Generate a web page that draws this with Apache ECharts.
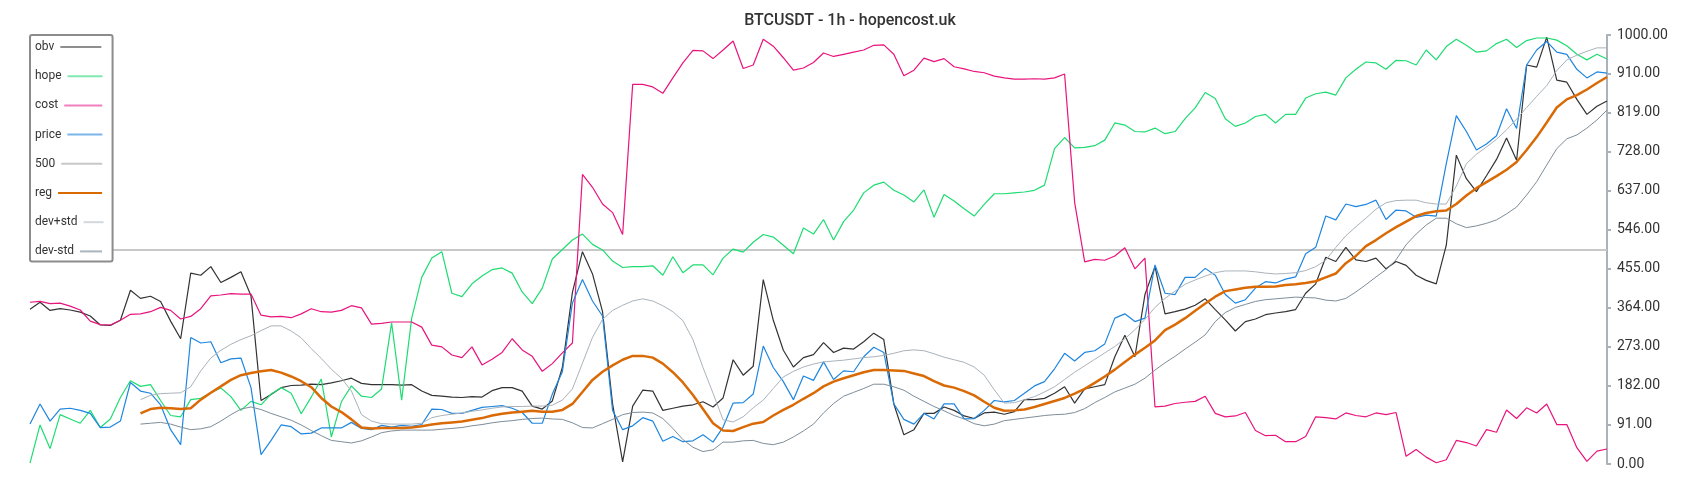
<!DOCTYPE html>
<html>
<head>
<meta charset="utf-8">
<title>BTCUSDT - 1h - hopencost.uk</title>
<script src="https://cdn.jsdelivr.net/npm/echarts@6/dist/echarts.min.js"></script>
<style>
  html, body { margin: 0; padding: 0; background: #fff; }
  #chart { width: 1700px; height: 500px; }
</style>
</head>
<body>
<div id="chart"></div>
<script>
// one value per hour, oldest first
const obv = [
  361, 377, 358, 362, 359, 354, 345, 324, 323, 335,
  405, 386, 391, 379, 333, 292, 445, 440, 460, 423,
  435, 448, 392, 148, 162, 178, 183, 184, 186, 185,
  189, 194, 200, 188, 185, 185, 185, 184, 185, 170,
  160, 158, 156, 155, 157, 156, 171, 178, 178, 170,
  135, 128, 147, 225, 400, 495, 443, 355, 140, 5,
  135, 172, 170, 125, 130, 135, 138, 145, 133, 154,
  243, 207, 228, 430, 335, 265, 226, 248, 255, 283,
  260, 270, 268, 285, 305, 290, 140, 68, 80, 118,
  118, 133, 125, 112, 106, 119, 121, 116, 122, 150,
  150, 153, 165, 180, 142, 175, 180, 185, 250, 300,
  250, 395, 460, 350, 355, 361, 370, 385, 360, 336,
  310, 332, 338, 348, 352, 355, 360, 398, 420, 482,
  472, 505, 476, 472, 480, 455, 472, 463, 440, 428,
  420, 510, 720, 665, 635, 672, 710, 760, 708, 930,
  925, 995, 895, 890, 850, 815, 834, 846
];

const hope = [
  2, 91, 36, 115, 105, 95, 125, 85, 105, 155,
  194, 181, 185, 148, 113, 110, 150, 153, 166, 177,
  157, 125, 146, 138, 163, 178, 165, 117, 156, 198,
  63, 145, 182, 158, 155, 175, 329, 149, 340, 435,
  480, 495, 398, 390, 420, 438, 453, 457, 445, 401,
  374, 410, 478, 500, 522, 536, 512, 499, 473, 458,
  460, 460, 462, 440, 483, 446, 464, 464, 441, 480,
  501, 494, 517, 535, 529, 510, 490, 550, 536, 570,
  522, 565, 592, 632, 650, 657, 638, 627, 611, 639,
  575, 628, 613, 595, 578, 605, 630, 630, 632, 634,
  638, 650, 735, 761, 737, 738, 742, 755, 795, 790,
  775, 774, 783, 770, 775, 805, 830, 866, 852, 805,
  787, 795, 810, 815, 795, 815, 815, 853, 863, 867,
  860, 900, 920, 937, 935, 920, 941, 940, 930, 965,
  942, 973, 990, 976, 960, 963, 980, 990, 971, 987,
  993, 993, 988, 975, 955, 942, 955, 944
];

const cost = [
  377, 379, 374, 375, 368, 359, 333, 325, 324, 335,
  349, 350, 355, 365, 358, 338, 344, 362, 392, 394,
  397, 396, 396, 347, 343, 344, 341, 350, 362, 355,
  354, 358, 369, 364, 326, 328, 331, 331, 331, 319,
  277, 273, 254, 248, 273, 231, 244, 260, 292, 266,
  251, 216, 234, 259, 282, 675, 645, 606, 586, 535,
  885, 885, 879, 864, 900, 935, 964, 963, 945, 965,
  986, 922, 930, 990, 974, 947, 918, 923, 936, 958,
  950, 955, 960, 965, 976, 977, 955, 905, 918, 946,
  938, 945, 926, 921, 915, 912, 904, 900, 897, 897,
  898, 897, 900, 909, 610, 471, 477, 475, 485, 504,
  455, 480, 133, 135, 141, 144, 146, 158, 118, 110,
  112, 120, 78, 66, 67, 52, 52, 64, 110, 108,
  105, 119, 113, 110, 119, 115, 120, 18, 34, 16,
  3, 10, 55, 50, 42, 80, 74, 126, 106, 131,
  119, 140, 92, 92, 38, 6, 30, 35
];

const price = [
  93, 140, 100, 128, 130, 125, 118, 85, 86, 100,
  190, 170, 165, 138, 80, 45, 295, 282, 285, 236,
  245, 247, 178, 22, 55, 91, 87, 70, 72, 84,
  84, 84, 97, 83, 80, 90, 86, 90, 88, 92,
  128, 127, 118, 118, 125, 132, 134, 136, 130, 120,
  95, 95, 163, 215, 375, 430, 380, 345, 125, 80,
  89, 108, 100, 53, 64, 52, 54, 68, 51, 86,
  142, 143, 163, 275, 225, 192, 150, 205, 195, 238,
  197, 217, 215, 250, 272, 260, 140, 104, 93, 118,
  105, 140, 140, 105, 106, 125, 148, 145, 148, 165,
  182, 192, 222, 258, 240, 260, 264, 280, 340, 350,
  332, 340, 464, 398, 395, 435, 435, 456, 440, 395,
  375, 383, 410, 425, 422, 431, 436, 490, 505, 578,
  569, 606, 600, 605, 615, 570, 592, 590, 575, 580,
  578, 700, 812, 775, 732, 746, 765, 828, 782, 930,
  965, 985, 960, 955, 920, 900, 914, 911
];

const level = 500;

// regression channel, empty during the warm-up window
const reg = [
  null, null, null, null, null, null, null, null, null, null, null,
  118, 128, 131, 130, 128, 130, 150, 166, 181,
  196, 207, 212, 216, 219, 213, 204, 193, 179, 154,
  134, 121, 104, 85, 83, 84, 84, 84, 85, 88,
  92, 95, 97, 99, 103, 107, 113, 117, 120, 122,
  124, 122, 122, 126, 140, 168, 196, 215, 230, 243,
  252, 252, 248, 234, 214, 190, 161, 128, 95, 78,
  77, 86, 94, 98, 113, 126, 138, 152, 165, 181,
  192, 200, 207, 214, 219, 219, 218, 217, 211, 205,
  193, 183, 178, 170, 160, 145, 131, 124, 125, 127,
  133, 140, 147, 154, 164, 175, 189, 204, 220, 238,
  255, 271, 288, 312, 325, 340, 357, 374, 390, 403,
  407, 411, 413, 413, 414, 417, 419, 422, 426, 435,
  444, 468, 485, 508, 522, 538, 552, 565, 578, 585,
  589, 591, 606, 626, 643, 657, 671, 686, 704, 732,
  762, 796, 831, 850, 860, 873, 888, 902
];

const devUp = [
  null, null, null, null, null, null, null, null, null, null, null,
  150, 160, 164, 165, 166, 180, 217, 247, 265,
  279, 290, 299, 311, 322, 322, 310, 294, 269, 246,
  221, 200, 170, 115, 100, 94, 93, 93, 93, 95,
  108, 113, 116, 119, 123, 126, 130, 133, 134, 134,
  135, 135, 137, 149, 175, 235, 295, 337, 358, 370,
  380, 385, 380, 369, 355, 334, 290, 225, 165, 103,
  98, 110, 131, 149, 176, 203, 216, 226, 233, 238,
  240, 242, 245, 248, 250, 253, 258, 264, 266, 264,
  257, 249, 243, 237, 226, 207, 173, 142, 143, 150,
  157, 168, 180, 197, 214, 229, 244, 259, 274, 292,
  313, 337, 365, 386, 403, 419, 429, 438, 446, 450,
  450, 450, 448, 445, 443, 444, 446, 451, 460, 475,
  505, 532, 553, 573, 594, 609, 614, 615, 615, 609,
  606, 606, 648, 700, 722, 739, 757, 779, 804, 831,
  857, 882, 917, 942, 953, 962, 970, 970
];

const devDn = [
  null, null, null, null, null, null, null, null, null, null, null,
  93, 95, 97, 93, 86, 80, 82, 87, 100,
  115, 128, 133, 127, 118, 110, 102, 91, 78, 66,
  55, 52, 49, 54, 63, 73, 77, 79, 79, 79,
  79, 81, 83, 85, 89, 92, 96, 99, 101, 104,
  106, 107, 105, 104, 96, 85, 84, 94, 104, 115,
  120, 121, 119, 106, 83, 57, 39, 29, 33, 51,
  51, 54, 55, 48, 45, 51, 63, 77, 93, 119,
  141, 158, 167, 176, 186, 186, 180, 172, 158, 146,
  134, 124, 113, 105, 94, 89, 93, 101, 104, 107,
  110, 113, 115, 116, 120, 129, 143, 155, 168, 177,
  186, 200, 219, 236, 251, 268, 284, 301, 332, 353,
  365, 372, 379, 383, 385, 387, 389, 388, 387, 382,
  380, 386, 401, 418, 436, 453, 476, 511, 536, 557,
  573, 573, 560, 551, 555, 561, 569, 583, 599, 627,
  658, 697, 735, 758, 767, 783, 802, 825
];

const hours = obv.map((v, i) => String(i));

const FONT = 'Roboto, "Noto Sans", sans-serif';

// legend swatches are drawn as rich text so each one can have its own length
const legendNames = ['obv', 'hope', 'cost', 'price', '500', 'reg', 'dev+std', 'dev-std'];
const swatchColor = ['#8f8f8f', '#80e8b0', '#f07fc0', '#7ab6ea', '#c8c8c8', '#d96a00', '#d3d8dc', '#aab4bc'];
const swatchWidth = [41, 35, 38, 35, 41, 44, 20, 22];

const rich = { gap: { width: 6 } };
legendNames.forEach((n, i) => {
  rich['k' + i] = {
    width: swatchWidth[i], height: 2, backgroundColor: swatchColor[i], verticalAlign: 'middle'
  };
});

function line (name, data, color, width, z) {
  return {
    name: name,
    type: 'line',
    data: data,
    symbol: 'none',
    showSymbol: false,
    connectNulls: false,
    z: z || 2,
    lineStyle: { color: color, width: width },
    itemStyle: { color: color },
    emphasis: { disabled: true }
  };
}

const chart = echarts.init(document.getElementById('chart'), null, { renderer: 'canvas' });
chart.setOption({
  animation: false,
  backgroundColor: '#ffffff',
  title: {
    text: 'BTCUSDT - 1h - hopencost.uk',
    left: 'center',
    top: 8,
    textStyle: { fontFamily: FONT, fontSize: 16, fontWeight: 500, color: '#333333' }
  },
  legend: {
    orient: 'vertical',
    left: 30,
    top: 35,
    z: 10,
    data: legendNames,
    icon: 'none',
    itemWidth: 0,
    itemHeight: 14,
    itemGap: 16.2,
    padding: [5, 9, 4, 0],
    backgroundColor: '#ffffff',
    borderColor: '#8c8c8c',
    borderWidth: 2,
    borderRadius: 2,
    selectedMode: false,
    formatter: function (name) {
      return name + '{gap|}{k' + legendNames.indexOf(name) + '|}';
    },
    textStyle: { fontFamily: FONT, fontSize: 12, color: '#333333', rich: rich }
  },
  grid: {
    left: 30,
    right: 93,
    top: 35,
    bottom: 36,
    containLabel: false,
    outerBoundsMode: 'none'
  },
  xAxis: {
    type: 'category',
    data: hours,
    boundaryGap: false,
    show: false
  },
  yAxis: {
    type: 'value',
    position: 'right',
    min: 0,
    max: 1000,
    interval: 91,
    axisLine: { show: true, lineStyle: { color: '#aab3ba', width: 2 } },
    axisTick: { show: true, length: 4, lineStyle: { color: '#aab3ba', width: 2 } },
    splitLine: { show: false },
    axisLabel: {
      margin: 10,
      fontFamily: FONT,
      fontSize: 14,
      color: '#333333',
      formatter: function (v) { return v.toFixed(2) }
    }
  },
  series: [
    line('obv', obv, '#333333', 1.2),
    line('hope', hope, '#1edc72', 1.2),
    line('cost', cost, '#e8137d', 1.2),
    line('price', price, '#1e86e0', 1.2),
    {
      name: '500',
      type: 'line',
      data: [],
      symbol: 'none',
      lineStyle: { color: '#c8c8c8', width: 2 },
      itemStyle: { color: '#c8c8c8' },
      markLine: {
        silent: true,
        z: 1,
        symbol: 'none',
        label: { show: false },
        emphasis: { disabled: true },
        lineStyle: { color: '#c8c8c8', width: 2, type: 'solid' },
        data: [{ yAxis: level }]
      }
    },
    line('reg', reg, '#da6a05', 2.5, 4),
    line('dev+std', devUp, '#aab3ba', 1),
    line('dev-std', devDn, '#7e8d99', 1)
  ]
});
</script>
</body>
</html>
